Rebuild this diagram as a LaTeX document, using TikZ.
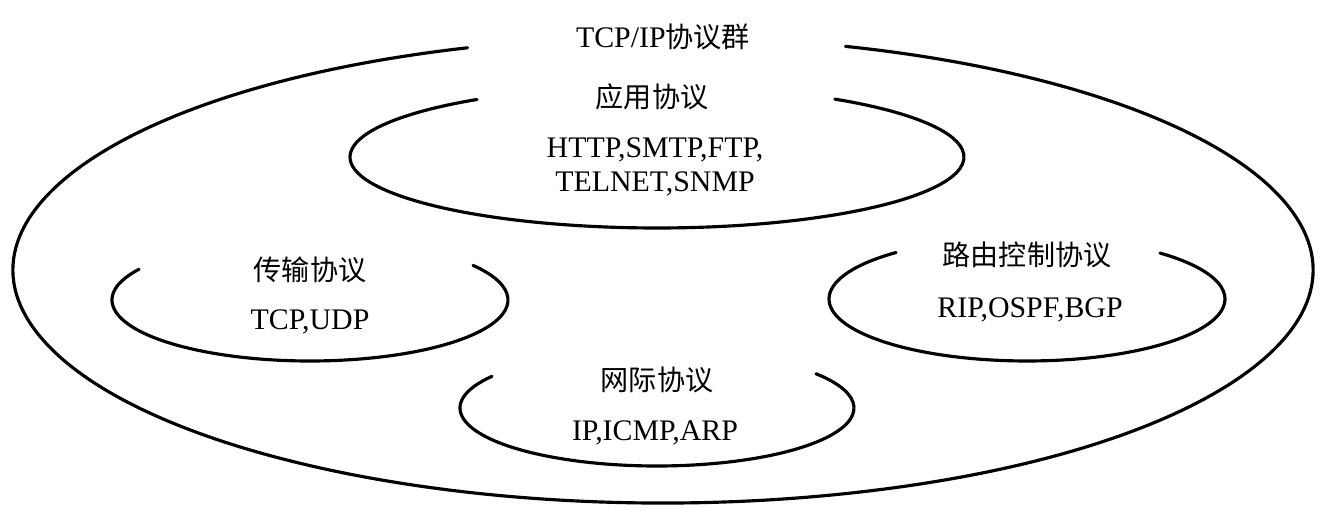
\documentclass[tikz,border=0pt]{standalone}
\usepackage{fontspec}
\setmainfont{Liberation Serif}
\newfontfamily\cjk{Noto Sans CJK SC}
\usepackage{tikz}
\newcommand{\zh}[1]{{\cjk\fontsize{16}{19}\selectfont #1}}
\tikzset{
    ring/.style={line width=1.8pt, line cap=round},
    label text/.style={font=\fontsize{17}{19}\selectfont, align=center, inner sep=0pt},
}

\begin{document}
\begin{tikzpicture}[x=0.02cm, y=0.02cm]
\useasboundingbox (0,0) rectangle (1324,526);
% outer ring: protocol suite
\coordinate (suite) at (663,256);
\draw[ring] ([shift={(107.5:650 and 233)}]suite) arc[start angle=107.5, end angle=433.7, x radius=650, y radius=233];
\node[label text] (suitetitle) at (663,489) {TCP/IP\zh{协议群}};

% application
\coordinate (app) at (657,369);
\draw[ring] ([shift={(125.9:307 and 71)}]app) arc[start angle=125.9, end angle=414.6, x radius=307, y radius=71];
\node[label text] (apptitle) at (652,429) {\zh{应用协议}};
\node[label text] (applist) at (655,359) {HTTP,SMTP,FTP,\\TELNET,SNMP};

% transport
\coordinate (trans) at (310,226);
\draw[ring] ([shift={(149.7:198 and 61)}]trans) arc[start angle=149.7, end angle=394.6, x radius=198, y radius=61];
\node[label text] (transtitle) at (310,256) {\zh{传输协议}};
\node[label text] (translist) at (310,204) {TCP,UDP};

% routing
\coordinate (route) at (1027,227);
\draw[ring] ([shift={(131.4:198 and 62)}]route) arc[start angle=131.4, end angle=407.8, x radius=198, y radius=62];
\node[label text] (routetitle) at (1027,271) {\zh{路由控制协议}};
\node[label text] (routelist) at (1030,216) {RIP,OSPF,BGP};

% internet
\coordinate (inet) at (657,118);
\draw[ring] ([shift={(146.9:197 and 58)}]inet) arc[start angle=146.9, end angle=396.2, x radius=197, y radius=58];
\node[label text] (inettitle) at (657,146) {\zh{网际协议}};
\node[label text] (inetlist) at (655,93) {IP,ICMP,ARP};
\end{tikzpicture}
\end{document}
